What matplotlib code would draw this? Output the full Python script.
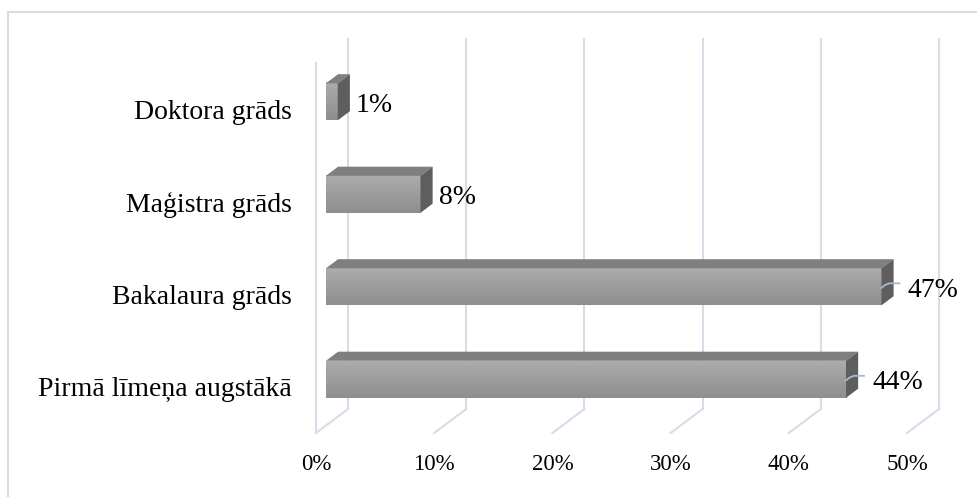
import numpy as np
import matplotlib.pyplot as plt
from matplotlib.patches import Polygon, Rectangle
from matplotlib.colors import LinearSegmentedColormap

categories = ["Pirmā līmeņa augstākā", "Bakalaura grāds", "Maģistra grāds", "Doktora grāds"]
values = [44, 47, 8, 1]
value_labels = ["44%", "47%", "8%", "1%"]
ticks = [0, 10, 20, 30, 40, 50]
tick_labels = ["0%", "10%", "20%", "30%", "40%", "50%"]

plt.rcParams["font.family"] = ["Liberation Serif", "DejaVu Serif"]

W, H = 978, 497
fig = plt.figure(figsize=(W / 100, H / 100), dpi=100)
ax = fig.add_axes([0, 0, 1, 1])
ax.axis("off")

# front plane of the 3d box: 0% at x=316px, categories 92.5px apart
px_pct = 11.82
px_cat = 92.5
x0_px, ybot_px = 316, 433
ax.set_xlim(-x0_px / px_pct, (W - x0_px) / px_pct)
ax.set_ylim((ybot_px - H) / px_cat - 0.5, ybot_px / px_cat - 0.5)

# depth offset of the back wall
DX = 32 / px_pct
DY = 24 / px_cat
grid_c = "#d9dce6"
n = len(categories)
ybot, ytop = -0.5, n - 0.5

for t, lbl in zip(ticks, tick_labels):
    ax.plot([t + DX, t + DX], [ybot + DY, ytop + DY], color=grid_c, lw=1.5, zorder=1)
    ax.plot([t, t + DX], [ybot, ybot + DY], color=grid_c, lw=1.5, zorder=1)
    ax.annotate(lbl, (t, ybot), xytext=(0, -22.5), textcoords="offset points",
                ha="center", va="center", fontsize=16.5)
ax.plot([0, 0], [ybot, ytop], color=grid_c, lw=1.5, zorder=1)

# bars
d0, d1 = 0.31, 0.69
bh = 0.4
ddx, ddy = (d1 - d0) * DX, (d1 - d0) * DY
grad = np.linspace(0, 1, 64).reshape(-1, 1)
cmap = LinearSegmentedColormap.from_list("bar", ["#acacac", "#8e8e8e"])

for i, (v, lab) in enumerate(zip(values, value_labels)):
    xa, xb = d0 * DX, v + d0 * DX
    ya, yb = i - bh / 2 + d0 * DY, i + bh / 2 + d0 * DY
    ax.imshow(grad, extent=(xa, xb, ya, yb), origin="upper", cmap=cmap,
              aspect="auto", zorder=3, interpolation="bilinear")
    top = Polygon([(xa, yb), (xb, yb), (xb + ddx, yb + ddy), (xa + ddx, yb + ddy)],
                  closed=True, facecolor="#7f7f7f", edgecolor="none", zorder=3)
    side = Polygon([(xb, ya), (xb, yb), (xb + ddx, yb + ddy), (xb + ddx, ya + ddy)],
                   closed=True, facecolor="#5e5e5e", edgecolor="none", zorder=3)
    ax.add_patch(top)
    ax.add_patch(side)

    yc = (ya + yb) / 2
    if v > 20:
        # leader line out of the bar end
        lx = [xb, xb + 4 / px_pct, xb + 8 / px_pct, xb + 18 / px_pct]
        ly = [yc - 1 / px_cat, yc + 2 / px_cat, yc + 3.5 / px_cat, yc + 3.5 / px_cat]
        ax.plot(lx, ly, color="#a9b8cc", lw=1.3, zorder=4)
        gap = 14
    else:
        gap = 6
    ax.annotate(lab, (xb + ddx, yc), xytext=(gap * 0.72, -2.5), textcoords="offset points",
                ha="left", va="center", fontsize=20, zorder=5)

# category labels
for i, c in enumerate(categories):
    ax.annotate(c, (-24 / px_pct, i), xytext=(0, -2.2), textcoords="offset points",
                ha="right", va="center", fontsize=20)

fig.add_artist(Rectangle((8 / W, -0.1), 1.2, (H - 12) / H + 0.1, transform=fig.transFigure,
                         fill=False, edgecolor="#d9dce1", lw=1.5))

fig.savefig("out.png", dpi=100)
